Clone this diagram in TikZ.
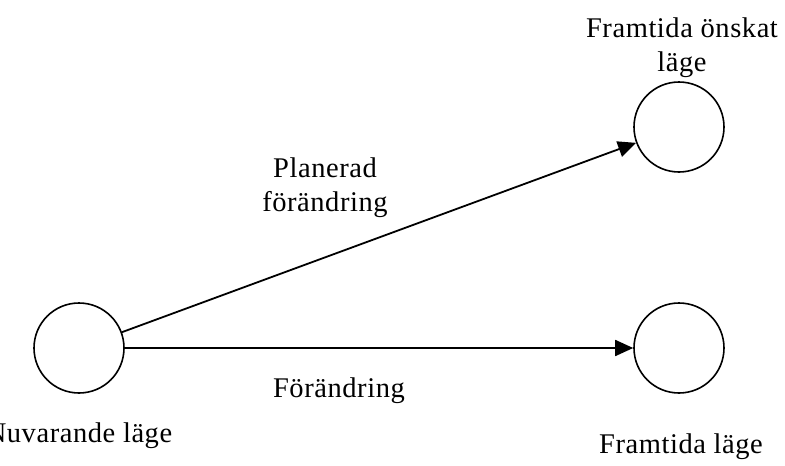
\documentclass[tikz,border=0pt]{standalone}
\usepackage{fontspec}
\setmainfont{Liberation Serif}[LetterSpace=2]
\usetikzlibrary{arrows.meta, positioning}

\tikzset{
  state/.style={circle, draw=black, line width=1.6pt, minimum size=90pt, inner sep=0pt},
  lbl/.style={font=\fontsize{28.5}{34}\selectfont, align=center, inner sep=0pt},
  flow/.style={line width=1.8pt, -{Triangle[length=18pt, width=16pt]}}
}

\begin{document}
\begin{tikzpicture}[x=1pt, y=-1pt]
  % Canvas
  \useasboundingbox (0,0) rectangle (785,466);

  % States
  \node[state] (nu) at (79,348) {};
  \node[state] (onskat) at (679,127) {};
  \node[state] (framtid) at (679,348) {};

  % Labels
  \node[lbl, anchor=base] (nuLbl) at (79,442) {Nuvarande läge};
  \node[lbl] (onskatLbl) at (682,48) {Framtida önskat\\läge};
  \node[lbl, anchor=base] (framtidLbl) at (681,453) {Framtida läge};

  % Arrows
  \draw[flow] (nu) -- (onskat);
  \draw[flow] (nu) -- (framtid);
  \node[lbl] (planLbl) at (325,188) {Planerad\\förändring};
  \node[lbl, anchor=base] (forLbl) at (339,397) {Förändring};
\end{tikzpicture}
\end{document}
